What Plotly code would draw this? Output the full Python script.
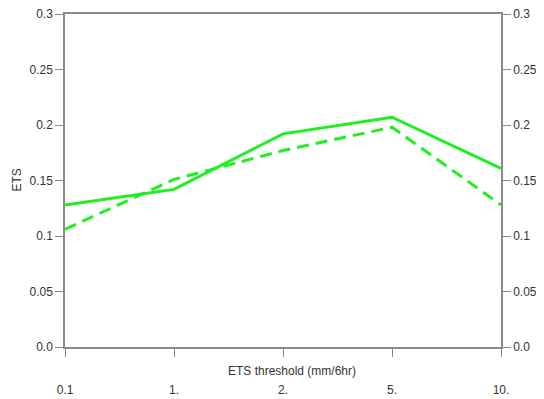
import plotly.graph_objects as go

categories = ["0.1", "1.", "2.", "5.", "10."]
ets_solid = [0.128, 0.142, 0.192, 0.207, 0.161]
ets_dashed = [0.106, 0.151, 0.177, 0.198, 0.128]
y_ticks = [0.0, 0.05, 0.1, 0.15, 0.2, 0.25, 0.3]
y_ticklabels = ["0.0", "0.05", "0.1", "0.15", "0.2", "0.25", "0.3"]

green = "#1ef01e"
axis_col = "#8a8a8a"
font = dict(family="Liberation Sans, Arial, sans-serif", size=12, color="#333333")

fig = go.Figure()
fig.add_trace(go.Scatter(x=categories, y=ets_solid, mode="lines",
                         line=dict(color=green, width=3), showlegend=False))
fig.add_trace(go.Scatter(x=categories, y=ets_dashed, mode="lines",
                         line=dict(color=green, width=3, dash="12px,7px"), showlegend=False))
# invisible trace for right axis
fig.add_trace(go.Scatter(x=categories, y=ets_solid, yaxis="y2", mode="lines",
                         line=dict(color="rgba(0,0,0,0)"), showlegend=False, hoverinfo="skip"))

# page body has an 8px default margin, so the figure is sized to fit the window
fig.update_layout(
    width=536, height=391,
    margin=dict(l=57, r=43, t=6, b=52),
    plot_bgcolor="white", paper_bgcolor="white",
    font=font,
    xaxis=dict(type="category", range=[0, 4], showgrid=False, zeroline=False,
               showline=True, linecolor=axis_col, linewidth=1.5, mirror=True,
               ticks="outside", ticklen=8, tickcolor=axis_col, tickwidth=1,
               ticklabelstandoff=23, tickfont=font, automargin=False,
               ticklabeloverflow="allow"),
    yaxis=dict(range=[0, 0.3], tickvals=y_ticks, ticktext=y_ticklabels,
               showgrid=False, zeroline=False, showline=True, linecolor=axis_col,
               linewidth=1.5, ticks="outside", ticklen=8, tickcolor=axis_col,
               tickfont=font, automargin=False, ticklabeloverflow="allow"),
    yaxis2=dict(range=[0, 0.3], tickvals=y_ticks, ticktext=y_ticklabels,
                overlaying="y", side="right", showgrid=False, zeroline=False,
                showline=True, linecolor=axis_col, linewidth=1.5,
                ticks="outside", ticklen=8, tickcolor=axis_col, tickfont=font,
                automargin=False, ticklabeloverflow="allow"),
    annotations=[
        dict(text="ETS threshold (mm/6hr)", xref="paper", yref="paper",
             x=0.5, xshift=9, y=0, yshift=-15, showarrow=False, font=font,
             xanchor="center", yanchor="top"),
        dict(text="ETS", xref="paper", yref="paper", x=0, xshift=-49, y=0.5,
             textangle=-90, showarrow=False, font=font,
             xanchor="center", yanchor="middle"),
    ],
)

fig.write_html("out.html")
